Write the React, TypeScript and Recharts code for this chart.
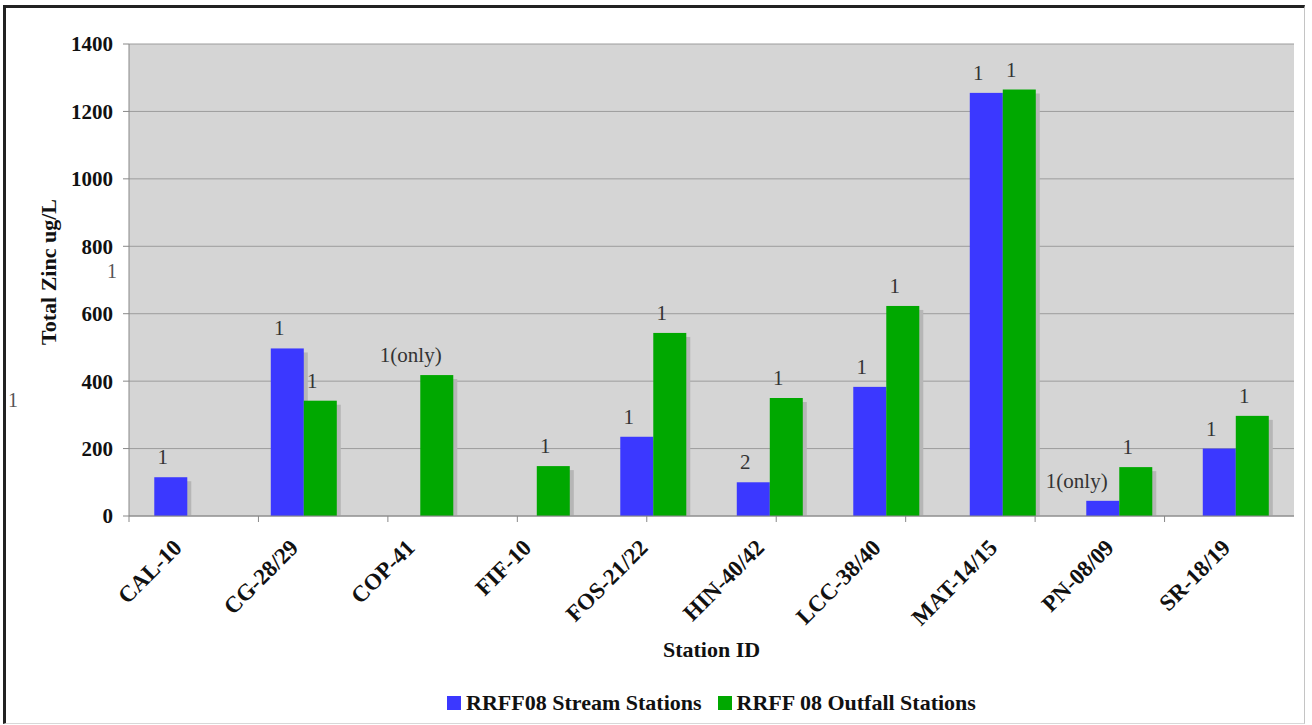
import React from 'react';
import { BarChart, Bar, XAxis, YAxis, CartesianGrid, Legend, ReferenceLine, LabelList } from 'recharts';

const stations = ['CAL-10', 'CG-28/29', 'COP-41', 'FIF-10', 'FOS-21/22', 'HIN-40/42', 'LCC-38/40', 'MAT-14/15', 'PN-08/09', 'SR-18/19'];
const streamValues: (number | null)[] = [115, 497, null, null, 235, 100, 383, 1255, 45, 200];
const outfallValues: (number | null)[] = [null, 342, 418, 148, 543, 350, 623, 1265, 145, 297];
const streamLabels = ['1', '1', '', '', '1', '2', '1', '1', '1(only)', '1'];
const outfallLabels = ['', '1', '1(only)', '1', '1', '1', '1', '1', '1', '1'];
const yTicks = [0, 200, 400, 600, 800, 1000, 1200, 1400];
const boundaryTicks = [0, 1, 2, 3, 4, 5, 6, 7, 8, 9, 10];
const seriesNames = ['RRFF08 Stream Stations', 'RRFF 08 Outfall Stations'];
const seriesColors = ['#3b38ff', '#00a800'];

const data = stations.map((s, i) => ({
  station: s,
  stream: streamValues[i],
  outfall: outfallValues[i],
  streamLabel: streamLabels[i],
  outfallLabel: outfallLabels[i],
}));

const FONT = '"Liberation Serif", "Times New Roman", Times, serif';

const ShadowBar = (props: any) => {
  const { x, y, width, height, fill } = props;
  if (height == null || height <= 0 || isNaN(height)) return null;
  return (
    <g>
      <rect x={x + 4} y={y + 4} width={width} height={Math.max(0, height - 4)} fill="#b6b6b6" />
      <rect x={x} y={y} width={width} height={height} fill={fill} />
    </g>
  );
};

const renderBarLabel = (props: any) => {
  const { x, y, width, value } = props;
  if (!value) return null;
  const cx = x + width / 2 - (String(value).length > 2 ? 26 : 8);
  return (
    <text x={cx} y={y - 13} textAnchor="middle" style={{ fontFamily: FONT, fontSize: 21, fontWeight: 'normal' }} fill="#333">
      {value}
    </text>
  );
};

const EmptyTick = () => <g />;

const XTick = (props: any) => {
  const { x, payload } = props;
  const axisY = 516;
  return (
    <text
      transform={`translate(${x - 4}, ${axisY + 33}) rotate(-45)`}
      textAnchor="end"
      style={{ fontFamily: FONT, fontWeight: 'bold', fontSize: 23 }}
      fill="#111"
    >
      {payload.value}
    </text>
  );
};

const renderYTitle = (props: any) => {
  const vb = props.viewBox || { x: 0, y: 44, width: 129, height: 472 };
  const cy = vb.y + vb.height / 2;
  return (
    <g>
      <text
        transform={`translate(${vb.x + 48}, ${cy - 8}) rotate(-90)`}
        textAnchor="middle"
        dominantBaseline="central"
        style={{ fontFamily: FONT, fontWeight: 'bold', fontSize: 22 }}
        fill="#111"
      >
        Total Zinc ug/L
      </text>
      <text x={vb.x + 112} y={cy - 2} textAnchor="middle" style={{ fontFamily: FONT, fontSize: 20 }} fill="#555">1</text>
      <text x={vb.x + 13} y={cy + 127} textAnchor="middle" style={{ fontFamily: FONT, fontSize: 20 }} fill="#555">1</text>
    </g>
  );
};

const renderXTitle = (props: any) => {
  const vb = props.viewBox;
  return (
    <text
      x={vb.x + vb.width / 2}
      y={516 + 141}
      textAnchor="middle"
      style={{ fontFamily: FONT, fontWeight: 'bold', fontSize: 22 }}
      fill="#111"
    >
      Station ID
    </text>
  );
};

const renderLegend = (props: any) => {
  const payload = [...(props.payload || [])].sort(
    (a: any, b: any) => seriesNames.indexOf(a.value) - seriesNames.indexOf(b.value)
  );
  return (
    <div style={{ display: 'flex', justifyContent: 'center', alignItems: 'center', fontFamily: FONT, fontWeight: 'bold', fontSize: 22, color: '#111' }}>
      {payload.map((p: any, i: number) => (
        <div key={i} style={{ display: 'flex', alignItems: 'center', marginRight: i === 0 ? 16 : 0 }}>
          <span style={{ display: 'inline-block', width: 14, height: 14, background: p.color, marginRight: 5 }} />
          <span style={{ fontFamily: FONT }}>{p.value}</span>
        </div>
      ))}
    </div>
  );
};

export default function App() {
  return (
    <div style={{ position: 'absolute', left: 0, top: 0, width: 1312, height: 725, background: '#fff', fontFamily: FONT }}>
      <div
        style={{
          position: 'absolute',
          left: 3,
          top: 5,
          width: 1302,
          height: 719,
          boxSizing: 'border-box',
          borderTop: '3px solid #222',
          borderLeft: '3px solid #222',
          borderRight: '1px solid #c4c4c4',
          borderBottom: '1px solid #d8d8d8',
        }}
      />
      <div style={{ position: 'absolute', left: 0, top: 0 }}>
        <BarChart
          width={1312}
          height={725}
          data={data}
          margin={{ top: 44, right: 18, bottom: 0, left: 0 }}
          barCategoryGap="21.7%"
          barGap={0}
          style={{ fontFamily: FONT }}
        >
          <CartesianGrid vertical={false} stroke="#9c9c9c" fill="#d5d5d5" />
          <XAxis
            xAxisId={0}
            type="number"
            domain={[0, 10]}
            ticks={boundaryTicks}
            tick={<EmptyTick />}
            tickLine={{ stroke: '#888' }}
            tickSize={6}
            axisLine={{ stroke: '#888' }}
            height={1}
            allowDataOverflow
          />
          <XAxis
            xAxisId={1}
            dataKey="station"
            interval={0}
            tickLine={false}
            axisLine={false}
            tick={<XTick />}
            height={208}
            label={renderXTitle}
          />
          <YAxis
            domain={[0, 1400]}
            ticks={yTicks}
            width={129}
            interval={0}
            tickMargin={10}
            tick={{ fontFamily: FONT, fontWeight: 'bold', fontSize: 21, fill: '#111' }}
            axisLine={{ stroke: '#888' }}
            tickLine={{ stroke: '#888' }}
            label={renderYTitle}
          />
          <ReferenceLine xAxisId={0} x={10} stroke="#9c9c9c" />
          <Legend
            layout="horizontal"
            verticalAlign="middle"
            align="center"
            wrapperStyle={{ top: 690, left: 129, width: 1165 }}
            content={renderLegend}
          />
          <Bar xAxisId={1} dataKey="stream" name={seriesNames[0]} fill={seriesColors[0]} shape={<ShadowBar />} isAnimationActive={false}>
            <LabelList dataKey="streamLabel" content={renderBarLabel} />
          </Bar>
          <Bar xAxisId={1} dataKey="outfall" name={seriesNames[1]} fill={seriesColors[1]} shape={<ShadowBar />} isAnimationActive={false}>
            <LabelList dataKey="outfallLabel" content={renderBarLabel} />
          </Bar>
        </BarChart>
      </div>
    </div>
  );
}
